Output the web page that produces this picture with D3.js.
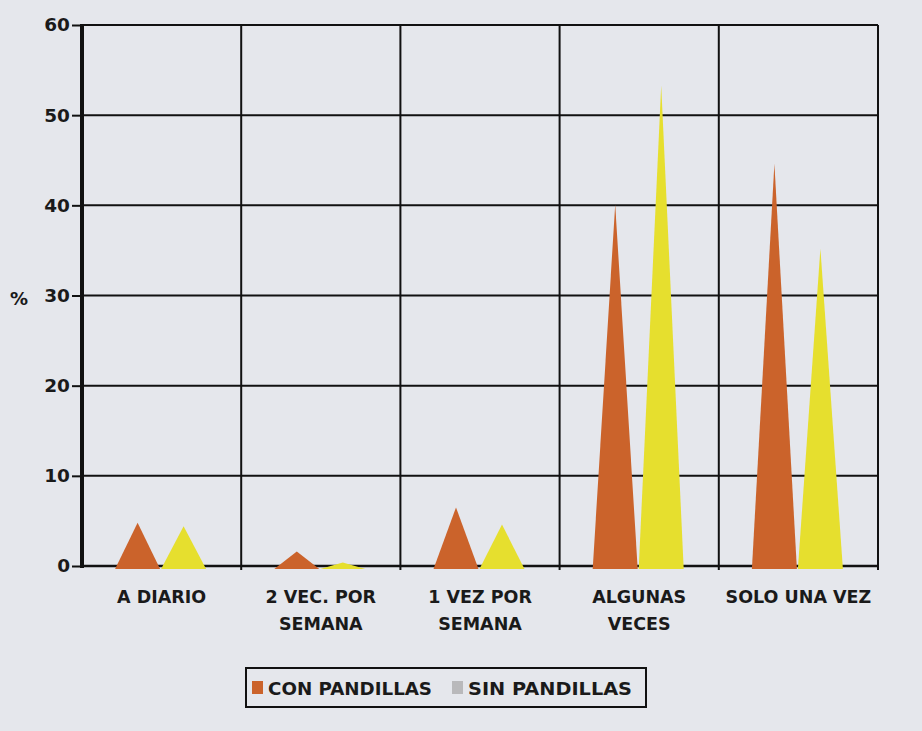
<!DOCTYPE html>
<html>
<head>
<meta charset="utf-8">
<script src="https://cdn.jsdelivr.net/npm/d3@7"></script>
<style>
  body { margin: 0; background: #e5e7ec; }
  svg { display: block; }
  text { font-family: "DejaVu Sans", Verdana, sans-serif; font-weight: bold; fill: #1a1a1a; }
</style>
</head>
<body>
<div id="wrapper"></div>
<script>
// data
const categories = ["A DIARIO", "2 VEC. POR SEMANA", "1 VEZ POR SEMANA", "ALGUNAS VECES", "SOLO UNA VEZ"]
const categoryLines = [["A DIARIO"], ["2 VEC. POR", "SEMANA"], ["1 VEZ POR", "SEMANA"], ["ALGUNAS", "VECES"], ["SOLO UNA VEZ"]]
const conPandillas = [4.8, 1.6, 6.5, 40.1, 44.6]
const sinPandillas = [4.4, 0.4, 4.6, 53.3, 35.2]
const seriesNames = ["CON PANDILLAS", "SIN PANDILLAS"]
const yTicks = [0, 10, 20, 30, 40, 50, 60]

const dimensions = {
  width: 922,
  height: 731,
  margin: { top: 25, right: 44, bottom: 165, left: 82 }
}
dimensions.boundedWidth = dimensions.width - dimensions.margin.left - dimensions.margin.right
dimensions.boundedHeight = dimensions.height - dimensions.margin.top - dimensions.margin.bottom

const xScale = d3.scaleBand()
  .domain(categories)
  .range([0, dimensions.boundedWidth])

const yScale = d3.scaleLinear()
  .domain([0, 60])
  .range([dimensions.boundedHeight, 0])

const wrapper = d3.select("#wrapper")
  .append("svg")
  .attr("width", dimensions.width)
  .attr("height", dimensions.height)

wrapper.append("rect")
  .attr("width", dimensions.width)
  .attr("height", dimensions.height)
  .attr("fill", "#e5e7ec")

const bounds = wrapper.append("g")
  .attr("transform", `translate(${dimensions.margin.left},${dimensions.margin.top})`)

// grid
bounds.append("g")
  .selectAll("line")
  .data(yTicks.slice(1))
  .join("line")
  .attr("x1", 0)
  .attr("x2", dimensions.boundedWidth)
  .attr("y1", d => yScale(d))
  .attr("y2", d => yScale(d))
  .attr("stroke", "#111")
  .attr("stroke-width", 2)

bounds.append("g")
  .selectAll("line")
  .data(categories)
  .join("line")
  .attr("x1", d => xScale(d) + xScale.bandwidth())
  .attr("x2", d => xScale(d) + xScale.bandwidth())
  .attr("y1", 0)
  .attr("y2", dimensions.boundedHeight + 4)
  .attr("stroke", "#111")
  .attr("stroke-width", 2)

// baseline
bounds.append("line")
  .attr("x1", 0)
  .attr("x2", dimensions.boundedWidth)
  .attr("y1", yScale(0))
  .attr("y2", yScale(0))
  .attr("stroke", "#111")
  .attr("stroke-width", 2.5)

// spikes
const spikeWidth = 45
const series = [
  { name: seriesNames[0], values: conPandillas, offset: -24, color: "#cb632b" },
  { name: seriesNames[1], values: sinPandillas, offset: 22, color: "#e6df2e" }
]
const triangle = (cat, v, offset) => {
  const cx = xScale(cat) + xScale.bandwidth() / 2 + offset
  const base = yScale(0) + 3
  return `M${cx - spikeWidth / 2},${base}L${cx},${yScale(v)}L${cx + spikeWidth / 2},${base}Z`
}
series.forEach(s => {
  bounds.append("g")
    .selectAll("path")
    .data(categories)
    .join("path")
    .attr("d", (d, i) => triangle(d, s.values[i], s.offset))
    .attr("fill", s.color)
})

// y axis
const yAxisGenerator = d3.axisLeft(yScale)
  .tickValues(yTicks)
  .tickSize(10)
  .tickPadding(2)

const yAxis = bounds.append("g")
  .call(yAxisGenerator)
yAxis.select(".domain").remove()
yAxis.selectAll(".tick line").attr("stroke", "#111").attr("stroke-width", 2)
yAxis.selectAll(".tick text")
  .style("font-size", "18.5px")
  .style("font-family", "'DejaVu Sans', sans-serif")
  .style("font-weight", "bold")
  .attr("fill", "#1a1a1a")

bounds.append("line")
  .attr("x1", 0)
  .attr("x2", 0)
  .attr("y1", -1)
  .attr("y2", dimensions.boundedHeight + 2)
  .attr("stroke", "#111")
  .attr("stroke-width", 4)

// top frame
bounds.append("line")
  .attr("x1", 0)
  .attr("x2", dimensions.boundedWidth)
  .attr("y1", 0)
  .attr("y2", 0)
  .attr("stroke", "#111")
  .attr("stroke-width", 2)

wrapper.append("text")
  .attr("x", 10)
  .attr("y", 305)
  .style("font-size", "18px")
  .text("%")

// x labels
const xLabels = bounds.append("g")
  .selectAll("text")
  .data(categories)
  .join("text")
  .attr("x", d => xScale(d) + xScale.bandwidth() / 2)
  .attr("y", dimensions.boundedHeight + 37)
  .attr("text-anchor", "middle")
  .style("font-size", "17.5px")

xLabels.selectAll("tspan")
  .data((d, i) => categoryLines[i])
  .join("tspan")
  .attr("x", function() { return d3.select(this.parentNode).attr("x") })
  .attr("dy", (d, i) => i === 0 ? 0 : 27)
  .text(d => d)

// legend
const legend = wrapper.append("g")
  .attr("transform", "translate(246,668)")

legend.append("rect")
  .attr("width", 400)
  .attr("height", 39)
  .attr("fill", "none")
  .attr("stroke", "#111")
  .attr("stroke-width", 2)

const legendItems = [
  { name: seriesNames[0], color: "#cb632b", x: 6 },
  { name: seriesNames[1], color: "#b9b9bb", x: 206 }
]
legendItems.forEach(item => {
  legend.append("rect")
    .attr("x", item.x)
    .attr("y", 13)
    .attr("width", 11)
    .attr("height", 13)
    .attr("fill", item.color)
  legend.append("text")
    .attr("x", item.x + 16)
    .attr("y", 27)
    .attr("textLength", 164)
    .attr("lengthAdjust", "spacingAndGlyphs")
    .style("font-size", "17px")
    .text(item.name)
})
</script>
</body>
</html>
